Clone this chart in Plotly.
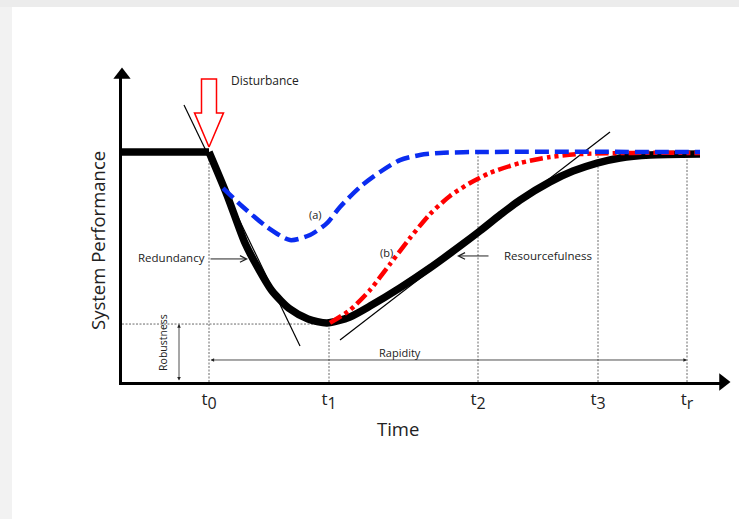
import plotly.graph_objects as go

# ---------------- data (time units, performance units) ----------------
tick_digits = ["0", "1", "2", "3", "r"]
tick_times = [8.7, 20.7, 35.6, 47.6, 56.5]

full_perf = 1.0

black_pre_x = [0.0, 8.7]
black_pre_y = [1.0, 1.0]

black_x = [8.7, 10.5, 12.3, 13.6, 15.0, 16.8, 18.6, 20.5, 22.8, 24.8, 27.8, 30.8, 33.8, 35.8, 37.8,
           39.8, 42.8, 45.1, 47.5, 49.8, 52.8, 57.8]
black_y = [1.0, 0.813, 0.604, 0.496, 0.396, 0.317, 0.274, 0.257, 0.283, 0.330, 0.409, 0.496, 0.591,
           0.657, 0.726, 0.791, 0.870, 0.917, 0.952, 0.974, 0.987, 0.991]

blue_x = [10.1, 12.1, 14.5, 16.8, 18.8, 20.5, 21.8, 23.8, 25.8, 27.8, 29.8, 31.8, 35.5, 57.8]
blue_y = [0.843, 0.761, 0.674, 0.617, 0.639, 0.691, 0.761, 0.848, 0.913, 0.965, 0.987, 0.996, 1.0, 1.0]

red_x = [20.8, 22.8, 24.8, 26.8, 28.8, 30.8, 32.8, 34.8, 36.8, 39.8, 42.8, 45.8, 51.1, 57.8]
red_y = [0.257, 0.313, 0.400, 0.513, 0.626, 0.730, 0.809, 0.865, 0.909, 0.952, 0.978, 0.991, 0.996, 0.996]

tangent1_x = [6.2, 17.8]
tangent1_y = [1.204, 0.157]
tangent2_x = [21.8, 48.8]
tangent2_y = [0.183, 1.087]

robust_level = 0.252

# ---------------- layout geometry ----------------
W, H = 739, 519
X_MAX = 60.1
Y_MAX = 1.3348
FONT = "Open Sans"
TXT = "#222"
SMOOTH = 0.7

fig = go.Figure()

# thin dotted guides
guide = dict(color="#444", width=0.8, dash="2px,1.5px")
for i, t in enumerate(tick_times):
    top = robust_level if i == 1 else full_perf
    fig.add_trace(go.Scatter(x=[t, t], y=[0, top], mode="lines", line=guide, hoverinfo="skip"))
fig.add_trace(go.Scatter(x=[0, tick_times[1]], y=[robust_level, robust_level], mode="lines",
                         line=guide, hoverinfo="skip"))

# tangent lines
fig.add_trace(go.Scatter(x=tangent1_x, y=tangent1_y, mode="lines", line=dict(color="black", width=1.2)))
fig.add_trace(go.Scatter(x=tangent2_x, y=tangent2_y, mode="lines", line=dict(color="black", width=1.2)))

# black main curve
fig.add_trace(go.Scatter(x=black_pre_x, y=black_pre_y, mode="lines", line=dict(color="black", width=7.5)))
fig.add_trace(go.Scatter(x=black_x, y=black_y, mode="lines",
                         line=dict(color="black", width=7.5, shape="spline", smoothing=SMOOTH)))
# red dash-dot-dot
fig.add_trace(go.Scatter(x=red_x, y=red_y, mode="lines",
                         line=dict(color="#ff0000", width=4.5, shape="spline", smoothing=SMOOTH,
                                   dash="13px,4px,4px,4px,4px,4px")))
# blue dashed
fig.add_trace(go.Scatter(x=blue_x, y=blue_y, mode="lines",
                         line=dict(color="#0a2cf0", width=4.5, shape="spline", smoothing=SMOOTH,
                                   dash="14px,6px")))

# disturbance hollow arrow (built relative to t0 and full performance)
t0 = tick_times[0]
hw, sw = 1.45, 0.75
tip, hb, top = full_perf + 0.022, full_perf + 0.170, full_perf + 0.317
dist_x = [t0, t0 - hw, t0 - sw, t0 - sw, t0 + sw, t0 + sw, t0 + hw, t0]
dist_y = [tip, hb, hb, top, top, hb, hb, tip]
fig.add_trace(go.Scatter(x=dist_x, y=dist_y, mode="lines",
                         line=dict(color="#ff0000", width=1.5), fill="toself", fillcolor="white"))

# axis arrow heads
fig.add_trace(go.Scatter(x=[X_MAX], y=[0], mode="markers", cliponaxis=False,
                         marker=dict(symbol="triangle-right", size=15, color="black")))
fig.add_trace(go.Scatter(x=[0], y=[Y_MAX], mode="markers", cliponaxis=False,
                         marker=dict(symbol="triangle-up", size=15, color="black")))

ann = []
def label(text, x, y, xanchor="center", size=11.5, angle=0, ref="data"):
    xr, yr = ("x", "y") if ref == "data" else ("paper", "paper")
    ann.append(dict(text=text, x=x, y=y, xref=xr, yref=yr, showarrow=False, xanchor=xanchor,
                    yanchor="middle", textangle=angle, font=dict(family=FONT, size=size, color=TXT)))

def arrow(x, y, ax, ay, head=5, both=False, size=1.0, width=1.0):
    ann.append(dict(text="", x=x, y=y, ax=ax, ay=ay, xref="x", yref="y", axref="x", ayref="y",
                    showarrow=True, arrowhead=head, startarrowhead=head, arrowsize=size,
                    startarrowsize=size, arrowwidth=width, arrowcolor=TXT,
                    arrowside="end+start" if both else "end"))

label("Disturbance", 10.7, 1.313, xanchor="left", size=12)
label("(a)", 19.3, 0.730, size=11)
label("(b)", 26.4, 0.561, size=11)
label("Redundancy", 8.5, 0.543, xanchor="right")
label("Resourcefulness", 38.0, 0.548, xanchor="left")
label("Rapidity", 27.8, 0.130, size=11)
label("Robustness", 4.1, 0.170, size=10.5, angle=-90)
label("System Performance", 97 / W, (H - 241) / H, size=18.5, angle=-90, ref="paper")
label("Time", 398 / W, (H - 428) / H, size=18.5, ref="paper")

arrow(12.6, 0.535, 8.7, 0.535, head=5, size=1.3)
arrow(33.5, 0.548, 36.8, 0.548, head=5, size=1.3)
arrow(tick_times[4], 0.0957, tick_times[0], 0.0957, head=2, both=True, size=0.9, width=0.8)
arrow(5.7, robust_level, 5.7, 0.0, head=2, both=True, size=0.9, width=0.8)

tick_text = ['t<sub><span style="font-size:16px">%s</span></sub>' % d for d in tick_digits]

fig.update_layout(
    width=W, height=H,
    margin=dict(l=0, r=0, t=0, b=0),
    paper_bgcolor="white", plot_bgcolor="white",
    showlegend=False,
    annotations=ann,
    shapes=[
        dict(type="rect", xref="paper", yref="paper", x0=0, x1=12 / W, y0=0, y1=1,
             fillcolor="#f2f2f2", line=dict(width=0), layer="below"),
        dict(type="rect", xref="paper", yref="paper", x0=0, x1=1, y0=1 - 7 / H, y1=1,
             fillcolor="#ececec", line=dict(width=0), layer="below"),
    ],
    xaxis=dict(domain=[122 / W, 723 / W], range=[0, X_MAX], showgrid=False, zeroline=False,
               showline=True, linewidth=3, linecolor="black",
               tickvals=tick_times, ticktext=tick_text, ticks="",
               tickfont=dict(family=FONT, size=17, color=TXT)),
    yaxis=dict(domain=[(H - 382) / H, (H - 75) / H], range=[0, Y_MAX], showgrid=False, zeroline=False,
               showline=True, linewidth=3, linecolor="black", showticklabels=False, ticks=""),
)

fig.write_html("out.html")
